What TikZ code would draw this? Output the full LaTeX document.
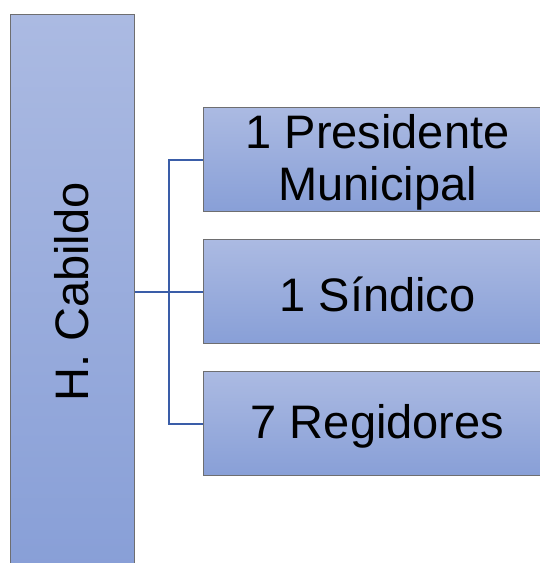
\documentclass[tikz,border=0pt]{standalone}
\usepackage{fontspec}
\setmainfont{Liberation Sans}
\definecolor{boxtop}{HTML}{ABBAE2}
\definecolor{boxbot}{HTML}{889FD7}
\definecolor{boxedge}{HTML}{6E6E70}
\definecolor{linkblue}{HTML}{3A5DA8}
\tikzset{
  orgbox/.style={draw=boxedge, line width=1pt, top color=boxtop, bottom color=boxbot, shading=axis, inner sep=0pt},
  orgtext/.style={font=\fontsize{47}{52}\selectfont, align=center, text=black, inner sep=0pt},
  link/.style={draw=linkblue, line width=2pt}
}
\begin{document}
\begin{tikzpicture}[x=1pt,y=1pt]
\useasboundingbox (0,0) rectangle (540,563);
\clip (0,0) rectangle (540,563);
\fill[white] (0,0) rectangle (540,563);
% left box
\node[orgbox, minimum width=124pt, minimum height=554pt] (cab) at (72,271) {};
\node[orgtext, rotate=90] (cabt) at (72,271) {H. Cabildo};
% right boxes
\node[orgbox, minimum width=349pt, minimum height=104pt] (pres) at (377.5,403) {};
\node[orgtext] (prest) at (377.5,401) {1 Presidente\\Municipal};
\node[orgbox, minimum width=349pt, minimum height=104pt] (sind) at (377.5,271) {};
\node[orgtext] (sindt) at (377.5,269) {1 Síndico};
\node[orgbox, minimum width=349pt, minimum height=104pt] (reg) at (377.5,139) {};
\node[orgtext] (regt) at (377.5,137) {7 Regidores};
% connectors
\coordinate (j) at (169,271);
\draw[link] (cab.east |- j) -- (sind.west);
\draw[link] (pres.west) -- (j |- pres.west) -- (j |- reg.west) -- (reg.west);
\end{tikzpicture}
\end{document}
